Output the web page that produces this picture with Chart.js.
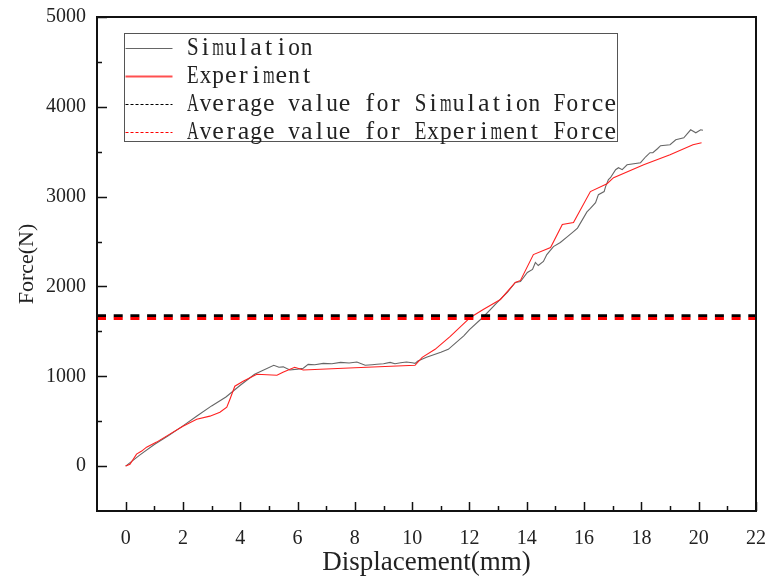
<!DOCTYPE html>
<html><head><meta charset="utf-8">
<script src="https://cdn.jsdelivr.net/npm/chart.js@4"></script>
<style>html,body{margin:0;padding:0;background:#fff;}</style>
</head><body>
<canvas id="c" width="767" height="579"></canvas>
<script>
// Simulation force curve
const simX = [0, 0.5, 1, 1.5, 2, 2.5, 3, 3.5, 4, 4.5, 5.17, 5.35, 5.5, 5.73, 6.0, 6.2, 6.37, 6.6, 6.9, 7.2, 7.5, 7.8, 8.07, 8.36, 8.6, 8.77, 9.0, 9.23, 9.4, 9.6, 9.8, 10.0, 10.1, 10.2, 10.5, 11.0, 11.26, 11.8, 12.0, 12.48, 12.97, 13.32, 13.6, 13.78, 14.02, 14.2, 14.3, 14.4, 14.58, 14.7, 14.93, 15.17, 15.42, 15.63, 15.77, 16.1, 16.22, 16.4, 16.5, 16.7, 16.75, 16.85, 16.92, 17.1, 17.2, 17.33, 17.5, 17.97, 18.15, 18.3, 18.4, 18.56, 18.67, 19.0, 19.2, 19.48, 19.72, 19.9, 20.07, 20.15];
const simY = [0, 125, 240, 340, 448, 560, 670, 770, 900, 1022, 1122, 1100, 1105, 1070, 1080, 1089, 1133, 1128, 1144, 1140, 1155, 1148, 1159, 1122, 1128, 1133, 1140, 1155, 1140, 1150, 1159, 1150, 1144, 1170, 1211, 1267, 1300, 1450, 1520, 1660, 1822, 1933, 2044, 2055, 2155, 2189, 2267, 2233, 2278, 2355, 2444, 2489, 2555, 2611, 2650, 2830, 2870, 2933, 3022, 3056, 3111, 3189, 3211, 3300, 3322, 3300, 3355, 3378, 3444, 3489, 3489, 3533, 3567, 3578, 3633, 3655, 3744, 3711, 3744, 3740];
// Experiment force curve
const expX = [0, 0.15, 0.38, 0.56, 0.73, 1.08, 1.54, 2.0, 2.48, 2.94, 3.29, 3.53, 3.64, 3.81, 4.1, 4.58, 5.28, 5.49, 5.9, 6.2, 8.0, 10.1, 10.35, 10.8, 11.33, 12.03, 12.48, 13.08, 13.6, 13.78, 14.23, 14.83, 15.24, 15.63, 16.22, 16.8, 17.03, 18.08, 19.0, 19.8, 20.1];
const expY = [0, 20, 133, 167, 211, 267, 356, 444, 522, 556, 600, 656, 744, 889, 944, 1022, 1011, 1044, 1100, 1070, 1095, 1122, 1211, 1300, 1444, 1655, 1744, 1855, 2044, 2067, 2355, 2433, 2689, 2711, 3056, 3144, 3211, 3355, 3467, 3578, 3600];
// Average values
const avgSimValue = 1675;
const avgExpValue = 1643;
// Axes
const xMin = -1, xMax = 22, yMin = -500, yMax = 5000;
const xTickValues = [0, 2, 4, 6, 8, 10, 12, 14, 16, 18, 20, 22];
const xMinorTicks = [1, 3, 5, 7, 9, 11, 13, 15, 17, 19, 21];
const yTickValues = [0, 1000, 2000, 3000, 4000, 5000];
const yMinorTicks = [500, 1500, 2500, 3500, 4500];
const seriesLabels = ['Simulation', 'Experiment', 'Average value for Simulation Force', 'Average value for Experiment Force'];

function pts(xs, ys) { return xs.map((x, i) => ({ x: x, y: ys[i] })); }

// draw text in fixed-width cells (SimSun-like half-width look)
function cellText(ctx, txt, x, y, cell) {
  for (let k = 0; k < txt.length; k++) {
    const ch = txt[k];
    const w = ctx.measureText(ch).width;
    const cx = x + cell * k + cell / 2;
    const maxW = cell * 0.92;
    ctx.save();
    ctx.translate(cx, y);
    if (w > maxW) ctx.scale(maxW / w, 1);
    ctx.fillText(ch, 0, 0);
    ctx.restore();
  }
}

const frameTicks = {
  id: 'frameTicks',
  afterDatasetsDraw(chart) {
    const ctx = chart.ctx, a = chart.chartArea, sx = chart.scales.x, sy = chart.scales.y;
    ctx.save();
    ctx.strokeStyle = '#111';
    ctx.lineWidth = 1.5;
    ctx.beginPath();
    xTickValues.forEach(v => { const p = Math.round(sx.getPixelForValue(v)) + 0.5; ctx.moveTo(p, a.bottom); ctx.lineTo(p, a.bottom - 9); });
    xMinorTicks.forEach(v => { const p = Math.round(sx.getPixelForValue(v)) + 0.5; ctx.moveTo(p, a.bottom); ctx.lineTo(p, a.bottom - 5); });
    yTickValues.forEach(v => { const p = Math.round(sy.getPixelForValue(v)) + 0.5; ctx.moveTo(a.left, p); ctx.lineTo(a.left + 10, p); });
    yMinorTicks.forEach(v => { const p = Math.round(sy.getPixelForValue(v)) + 0.5; ctx.moveTo(a.left, p); ctx.lineTo(a.left + 5, p); });
    ctx.stroke();
    ctx.lineWidth = 2;
    ctx.strokeRect(a.left, a.top, a.right - a.left, a.bottom - a.top);
    // legend box
    const bx = a.left + 27.5, by = a.top + 16.5, bw = 493, bh = 108;
    ctx.fillStyle = '#fff';
    ctx.fillRect(bx, by, bw, bh);
    ctx.lineWidth = 1;
    ctx.strokeStyle = '#555';
    ctx.strokeRect(bx, by, bw, bh);
    const ds = chart.data.datasets;
    ctx.font = '26px "Liberation Serif"';
    ctx.textBaseline = 'middle';
    ctx.textAlign = 'center';
    [0, 1, 2, 3].forEach((di, i) => {
      const d = ds[di];
      const ry = by + 14 + i * 28;
      ctx.beginPath();
      ctx.strokeStyle = di === 1 ? '#ff5050' : d.borderColor;
      ctx.lineWidth = di === 1 ? 2 : 1;
      ctx.setLineDash(di >= 2 ? [3, 2] : []);
      ctx.moveTo(bx + 1, Math.round(ry) + 0.5);
      ctx.lineTo(bx + 48, Math.round(ry) + 0.5);
      ctx.stroke();
      ctx.setLineDash([]);
      ctx.fillStyle = '#222';
      cellText(ctx, d.label, bx + 62, ry + 1, 12.65);
    });
    ctx.restore();
  }
};

new Chart(document.getElementById('c'), {
  type: 'line',
  data: {
    datasets: [
      { label: seriesLabels[0], data: pts(simX, simY), borderColor: '#666666', borderWidth: 1.1, pointRadius: 0, tension: 0, order: 3 },
      { label: seriesLabels[1], data: pts(expX, expY), borderColor: '#ff2020', borderWidth: 1.1, pointRadius: 0, tension: 0, order: 2 },
      { label: seriesLabels[2], data: pts([xMin, xMax], [avgSimValue, avgSimValue]), borderColor: '#000000', borderWidth: 3, borderDash: [9, 7.7], pointRadius: 0, order: 1 },
      { label: seriesLabels[3], data: pts([xMin, xMax], [avgExpValue, avgExpValue]), borderColor: '#ff0000', borderWidth: 3, borderDash: [9, 7.7], pointRadius: 0, order: 0 }
    ]
  },
  options: {
    responsive: false,
    animation: false,
    devicePixelRatio: 1,
    layout: { padding: { top: 17, right: 11, left: 0, bottom: 0 } },
    plugins: { legend: { display: false }, tooltip: { enabled: false } },
    scales: {
      x: {
        type: 'linear', min: xMin, max: xMax,
        afterBuildTicks: s => { s.ticks = xTickValues.map(v => ({ value: v })); },
        afterFit: s => { s.height = 68; s.paddingLeft = 0; s.paddingRight = 0; },
        grid: { display: true, drawOnChartArea: false, drawTicks: false },
        border: { display: false },
        ticks: { padding: 16, color: '#222', font: { family: 'Liberation Serif', size: 20 }, maxRotation: 0, callback: v => String(v) },
        title: { display: true, text: 'Displacement(mm)', color: '#222', font: { family: 'Liberation Serif', size: 27 }, padding: { top: 0, bottom: 0 } }
      },
      y: {
        type: 'linear', min: yMin, max: yMax,
        afterBuildTicks: s => { s.ticks = yTickValues.map(v => ({ value: v })); },
        afterFit: s => { s.width = 97; s.paddingTop = 0; s.paddingBottom = 0; },
        grid: { display: true, drawOnChartArea: false, drawTicks: false },
        border: { display: false },
        ticks: { padding: 11, color: '#222', font: { family: 'Liberation Serif', size: 20 }, callback: v => String(v) },
        title: { display: true, text: 'Force(N)', color: '#222', font: { family: 'Liberation Serif', size: 22 }, padding: { top: 14, bottom: 0 } }
      }
    }
  },
  plugins: [frameTicks]
});
</script>
</body></html>
